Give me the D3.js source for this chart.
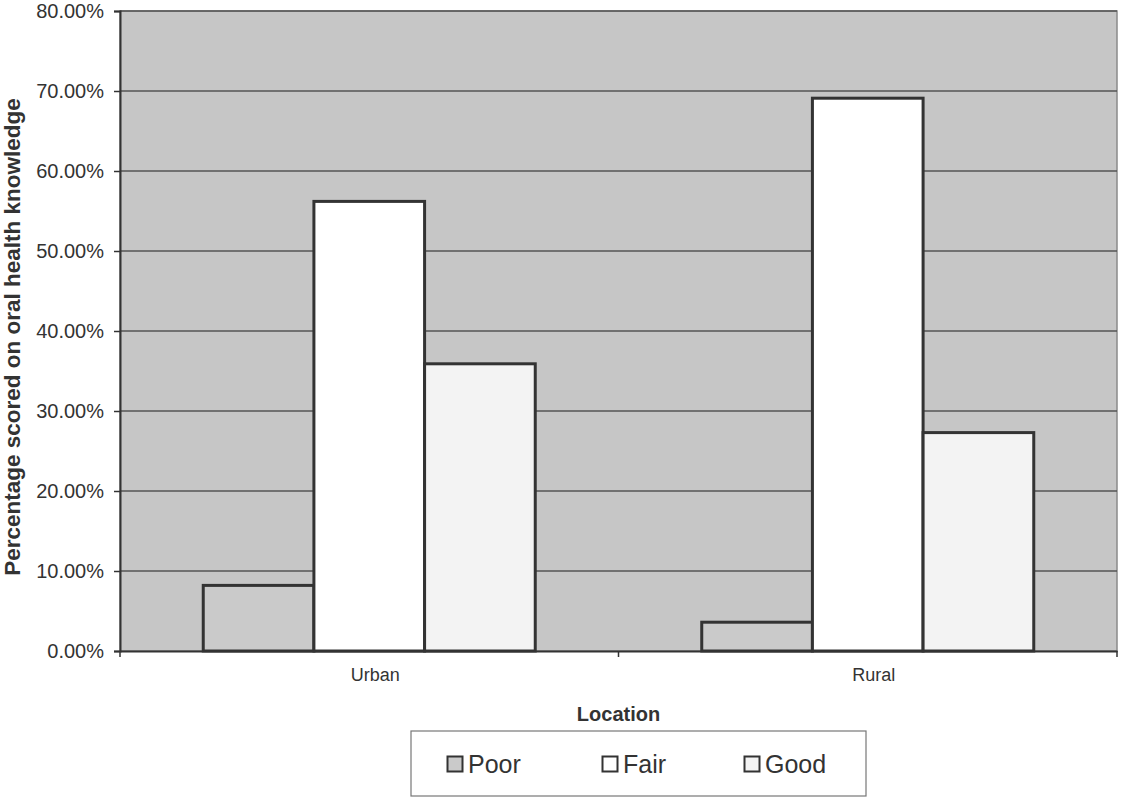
<!DOCTYPE html>
<html>
<head>
<meta charset="utf-8">
<script src="https://cdn.jsdelivr.net/npm/d3@7"></script>
<style>
body { margin: 0; background: #fff; }
text { font-family: "Liberation Sans", Arial, sans-serif; }
</style>
</head>
<body>
<svg id="chart"></svg>
<script>
const categories = ['Urban', 'Rural'];
const seriesNames = ['Poor', 'Fair', 'Good'];
const poorValues = [0.082, 0.036];
const fairValues = [0.562, 0.691];
const goodValues = [0.359, 0.273];
const yTicks = [0, 0.1, 0.2, 0.3, 0.4, 0.5, 0.6, 0.7, 0.8];

const seriesValues = [poorValues, fairValues, goodValues];
const fills = ['#cacaca', '#ffffff', '#f3f3f3'];

const width = 1121, height = 799;
const plot = { left: 120, top: 11, right: 1117, bottom: 651 };

const svg = d3.select('#chart')
	.attr('width', width)
	.attr('height', height);

const x = d3.scaleBand().domain(categories).range([plot.left, plot.right]).padding(0);
const groupInset = x.bandwidth() * 0.167;
const xInner = d3.scaleBand().domain(seriesNames).range([groupInset, x.bandwidth() - groupInset]).padding(0);
const y = d3.scaleLinear().domain([0, 0.8]).range([plot.bottom, plot.top]);

// plot background
svg.append('rect')
	.attr('x', plot.left).attr('y', plot.top)
	.attr('width', plot.right - plot.left).attr('height', plot.bottom - plot.top)
	.attr('fill', '#c6c6c6')
	.attr('stroke', '#8a8a8a')
	.attr('stroke-width', 1.5);

// gridlines
svg.append('g').selectAll('line')
	.data(yTicks.filter(d => d > 0))
	.join('line')
	.attr('x1', plot.left).attr('x2', plot.right)
	.attr('y1', d => y(d)).attr('y2', d => y(d))
	.attr('stroke', '#555')
	.attr('stroke-width', 1.5);

// bars
const groups = svg.append('g').selectAll('g')
	.data(categories)
	.join('g')
	.attr('transform', d => `translate(${x(d)},0)`);

groups.selectAll('rect')
	.data((c, ci) => seriesNames.map((s, si) => ({ series: s, si: si, value: seriesValues[si][ci] })))
	.join('rect')
	.attr('x', d => xInner(d.series))
	.attr('width', xInner.bandwidth())
	.attr('y', d => y(d.value))
	.attr('height', d => y(0) - y(d.value))
	.attr('fill', d => fills[d.si])
	.attr('stroke', '#333')
	.attr('stroke-width', 3);

// y axis
const yAxis = svg.append('g')
	.attr('transform', `translate(${plot.left},0)`)
	.call(d3.axisLeft(y).tickValues(yTicks).tickFormat(d3.format('.2%')).tickSize(6).tickPadding(10));
yAxis.select('.domain').attr('stroke', '#333').attr('stroke-width', 2);
yAxis.selectAll('.tick line').attr('stroke', '#333').attr('stroke-width', 1.5);
yAxis.selectAll('.tick text')
	.attr('fill', '#333')
	.style('font-size', '20px');

// x axis
const xAxis = svg.append('g')
	.attr('transform', `translate(0,${plot.bottom})`)
	.call(d3.axisBottom(x).tickSize(0).tickPadding(17));
xAxis.select('.domain').attr('stroke', '#333').attr('stroke-width', 2);
xAxis.selectAll('.tick text')
	.attr('fill', '#333')
	.attr('dx', 6)
	.style('font-size', '18px');

// x axis tick marks at category boundaries
svg.append('g').selectAll('line')
	.data(categories.map(c => x(c)).concat([plot.right]))
	.join('line')
	.attr('x1', d => d).attr('x2', d => d)
	.attr('y1', plot.bottom).attr('y2', plot.bottom + 6)
	.attr('stroke', '#333')
	.attr('stroke-width', 1.5);

// axis titles
svg.append('text')
	.attr('x', (plot.left + plot.right) / 2)
	.attr('y', 721)
	.attr('text-anchor', 'middle')
	.attr('fill', '#333')
	.style('font-size', '20px')
	.style('font-weight', 'bold')
	.text('Location');

svg.append('text')
	.attr('transform', `translate(20,${(plot.top + plot.bottom) / 2 + 6}) rotate(-90)`)
	.attr('text-anchor', 'middle')
	.attr('fill', '#333')
	.style('font-size', '22.5px')
	.style('font-weight', 'bold')
	.text('Percentage scored on oral health knowledge');

// legend
const legend = svg.append('g');
legend.append('rect')
	.attr('x', 411).attr('y', 731)
	.attr('width', 455).attr('height', 65)
	.attr('fill', '#fff')
	.attr('stroke', '#777')
	.attr('stroke-width', 1.2);

const legendX = [455, 610, 752];
const items = legend.selectAll('g')
	.data(seriesNames)
	.join('g')
	.attr('transform', (d, i) => `translate(${legendX[i]},764)`);
items.append('rect')
	.attr('x', -7.5).attr('y', -7.5)
	.attr('width', 15).attr('height', 15)
	.attr('fill', (d, i) => fills[i])
	.attr('stroke', '#333')
	.attr('stroke-width', 2);
items.append('text')
	.attr('x', 13).attr('y', 9)
	.attr('fill', '#333')
	.style('font-size', '25px')
	.text(d => d);
</script>
</body>
</html>
